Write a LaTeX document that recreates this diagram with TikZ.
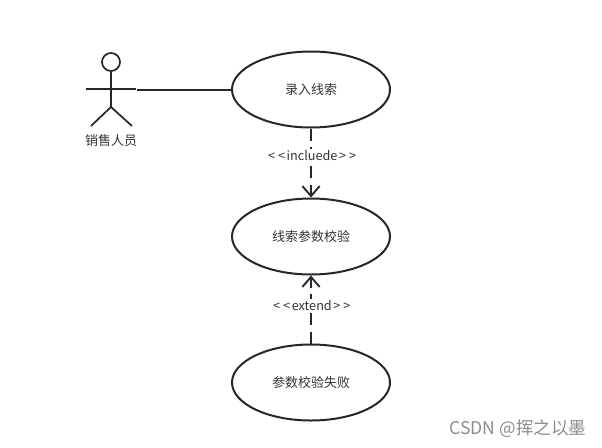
\documentclass[tikz,border=0pt]{standalone}
\usepackage{fontspec}
\setmainfont{Noto Sans CJK SC}
\usetikzlibrary{arrows.meta, positioning}
\usetikzlibrary{shapes.geometric}
\definecolor{inkline}{HTML}{23282D}
\definecolor{inktext}{HTML}{333333}
\newcommand{\lt}{<\kern1.2pt}
\newcommand{\gt}{\kern1.2pt>}
\tikzset{
  usecase/.style={draw=inkline, line width=1.5pt, ellipse, minimum width=118.5pt, minimum height=57pt, inner sep=0pt, text=inktext, font=\fontsize{9.75}{11}\selectfont},
  stereo/.style={fill=white, inner xsep=0.5pt, inner ysep=1pt, text=inktext, font=\fontsize{9.5}{11}\selectfont},
  dep/.style={draw=inkline, line width=1.5pt, dash pattern=on 9pt off 5pt, -{Straight Barb[length=7.5pt,width=13pt,line width=1.4pt]}},
  limb/.style={draw=inkline, line width=1.3pt}
}
\begin{document}
\begin{tikzpicture}[x=0.75pt,y=-0.75pt]
\useasboundingbox (0,0) rectangle (602,447);
\node[usecase] (enter) at (311,89.5) {录入线索};
\node[usecase] (check) at (311,236.5) {线索参数校验};
\node[usecase] (fail) at (311,382.5) {参数校验失败};
% actor
\node[draw=inkline, line width=1.3pt, circle, minimum size=13.5pt, inner sep=0pt] (head) at (111,62) {};
\coordinate (hip) at (111,107);
\coordinate (armL) at (86,89);
\coordinate (armR) at (136,89);
\coordinate (footL) at (91,126);
\coordinate (footR) at (132,126);
\coordinate (hand) at (137,89.5);
\draw[limb] (head) -- (hip);
\draw[limb] (armL) -- (armR);
\draw[limb] (footL) -- (hip) -- (footR);
\node[text=inktext, font=\fontsize{9.75}{11}\selectfont] (sales) at (111,141) {销售人员};
\draw[draw=inkline, line width=1.5pt] (hand) -- (enter);
\draw[dep] (enter) -- node[stereo, pos=0.39, xshift=0.8pt] (inc) {\lt\kern1pt\lt incluede\gt\kern1pt\gt} (check);
\draw[dep] (fail) -- node[stereo, pos=0.557, xshift=0.6pt] (ext) {\lt\kern1pt\lt extend\gt\kern1pt\gt} (check);
\node[text=black!45, font=\fontsize{13.2}{15}\selectfont] (mark) at (518,429) {CSDN @挥之以墨};
\end{tikzpicture}
\end{document}
